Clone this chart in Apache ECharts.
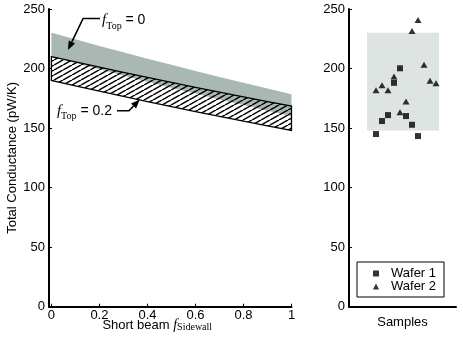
<!DOCTYPE html>
<html>
<head>
<meta charset="utf-8">
<script src="https://cdn.jsdelivr.net/npm/echarts@6/dist/echarts.min.js"></script>
<style>
  html, body { margin: 0; padding: 0; background: #fff; }
  #main { width: 463px; height: 341px; }
</style>
</head>
<body>
<div id="main"></div>
<script>
// short beam model, x = f_Sidewall
var fSidewall = [0, 0.1, 0.2, 0.3, 0.4, 0.5, 0.6, 0.7, 0.8, 0.9, 1];
// f_Top = 0 band (grey)
var top0Upper = [230, 224.5, 219.0, 213.6, 208.3, 203.1, 198.0, 193.0, 188.1, 183.3, 178.5];
var top0Lower = [210, 204.6, 199.3, 194.1, 189.0, 183.9, 179.0, 174.1, 169.3, 164.6, 160];
// f_Top = 0.2 band (hatched)
var top02Upper = [210, 205.5, 201.1, 196.8, 192.5, 188.4, 184.2, 180.2, 176.2, 172.3, 168.5];
var top02Lower = [190, 185.5, 181.0, 176.6, 172.3, 168.1, 163.9, 159.8, 155.8, 151.9, 148];

// measured samples
var wafer1Idx = [1, 2, 3, 4, 5, 6, 7, 8];
var wafer1 = [145, 155.9, 160.9, 188, 200.2, 160.1, 152.8, 143.3];
var wafer2Idx = [1, 2, 3, 4, 5, 6, 7, 8, 9, 10, 11];
var wafer2 = [181.7, 185.9, 181.7, 193.4, 163.2, 172.4, 231.5, 240.8, 203.2, 189.7, 187.6];
var sampleRange = [148, 230];

var xTicks = [0, 0.2, 0.4, 0.6, 0.8, 1];

var font = 'Liberation Sans, Arial, sans-serif';
var serif = 'Liberation Serif, Times New Roman, serif';
var grey = '#a9b8b4';

function pairs(xs, ys) {
    return xs.map(function (x, i) { return [x, ys[i]]; });
}

// hatch pattern
var hatch = document.createElement('canvas');
hatch.width = 9;
hatch.height = 5;
var hc = hatch.getContext('2d');
hc.strokeStyle = '#000';
hc.lineWidth = 1.5;
[-9, 0, 9].forEach(function (o) {
    hc.beginPath();
    hc.moveTo(o, 5);
    hc.lineTo(o + 9, 0);
    hc.stroke();
});

// band between two curves, drawn as one polygon
function band(upper, lower, style) {
    return {
        type: 'custom', xAxisIndex: 0, yAxisIndex: 0, silent: true,
        data: fSidewall.map(function (x, i) { return [x, upper[i], lower[i]]; }),
        encode: { x: 0, y: [1, 2] },
        renderItem: function (params, api) {
            if (params.dataIndex !== 0) return;
            var pts = [];
            fSidewall.forEach(function (x, i) { pts.push(api.coord([x, upper[i]])); });
            for (var i = fSidewall.length - 1; i >= 0; i--) pts.push(api.coord([fSidewall[i], lower[i]]));
            return { type: 'polygon', shape: { points: pts }, style: style };
        }
    };
}

var myChart = echarts.init(document.getElementById('main'));

var axisCommon = {
    nameMoveOverlap: false,
    axisLine: { onZero: false, lineStyle: { color: '#000', width: 2 } },
    axisTick: { inside: true, length: 3, lineStyle: { color: '#000' } },
    splitLine: { show: false },
    axisLabel: { color: '#000', fontSize: 13, fontFamily: font, margin: 4 }
};

var option = {
    backgroundColor: '#fff',
    animation: false,
    grid: [
        { left: 49, right: 171.5, top: 9, bottom: 34.3, outerBoundsMode: 'none', containLabel: false },
        { left: 349, right: 7, top: 9, bottom: 34.3, outerBoundsMode: 'none', containLabel: false }
    ],
    xAxis: [
        echarts.util.merge({
            gridIndex: 0, type: 'value', min: -0.01, max: 1, interval: 0.2,
            axisLabel: {
                margin: 2,
                customValues: xTicks,
                formatter: function (v) { return String(+v.toFixed(1)); }
            },
            axisTick: { customValues: xTicks },
            name: '{t|Short beam }{f|f}{s|Sidewall}',
            nameLocation: 'middle',
            nameGap: 12,
            nameTextStyle: {
                padding: [0, 26, 0, 0],
                verticalAlign: 'top',
                rich: {
                    t: { fontFamily: font, fontSize: 13, color: '#000', lineHeight: 14 },
                    f: { fontFamily: serif, fontStyle: 'italic', fontSize: 14, color: '#000', lineHeight: 14 },
                    s: { fontFamily: serif, fontSize: 10, color: '#000', lineHeight: 10, verticalAlign: 'bottom' }
                }
            }
        }, axisCommon, false),
        echarts.util.merge({
            gridIndex: 1, type: 'value', min: -3.5, max: 14.33,
            axisTick: { show: false },
            axisLabel: { show: false },
            name: 'Samples',
            nameLocation: 'middle',
            nameGap: 9,
            nameTextStyle: { fontFamily: font, fontSize: 13, color: '#000' }
        }, axisCommon, false)
    ],
    yAxis: [
        echarts.util.merge({
            gridIndex: 0, type: 'value', min: 0, max: 250, interval: 50,
            name: 'Total Conductance (pW/K)',
            nameLocation: 'middle',
            nameGap: 30,
            nameTextStyle: { fontFamily: font, fontSize: 13, color: '#000' }
        }, axisCommon, false),
        echarts.util.merge({
            gridIndex: 1, type: 'value', min: 0, max: 250, interval: 50
        }, axisCommon, false)
    ],
    legend: {
        data: ['Wafer 1', 'Wafer 2'],
        orient: 'vertical',
        left: 357,
        top: 262,
        itemWidth: 6,
        itemHeight: 6,
        itemGap: 0,
        padding: [5, 8, 4, 16],
        borderColor: '#000',
        borderWidth: 1,
        backgroundColor: '#fff',
        textStyle: { fontFamily: font, fontSize: 13, color: '#000', lineHeight: 13, padding: [0, 0, 0, 7] }
    },
    series: [
        band(top0Upper, top0Lower, { fill: grey }),
        band(top02Upper, top02Lower, {
            fill: { image: hatch, repeat: 'repeat' }, stroke: '#000', lineWidth: 1.3
        }),
        {
            name: 'Wafer 1', type: 'scatter', xAxisIndex: 1, yAxisIndex: 1,
            symbol: 'rect', symbolSize: 6,
            itemStyle: { color: '#000' },
            data: pairs(wafer1Idx, wafer1),
            markArea: {
                silent: true,
                itemStyle: { color: '#dde4e2', opacity: 1 },
                data: [[{ coord: [-0.5, sampleRange[0]] }, { coord: [11.5, sampleRange[1]] }]]
            },
            z: 3
        },
        {
            name: 'Wafer 2', type: 'scatter', xAxisIndex: 1, yAxisIndex: 1,
            symbol: 'triangle', symbolSize: [7, 6],
            itemStyle: { color: '#000' },
            data: pairs(wafer2Idx, wafer2),
            z: 3
        }
    ]
};

myChart.setOption(option);

// annotations, in data coordinates of the left plot
function px(p) { return myChart.convertToPixel({ gridIndex: 0 }, p); }

function arrow(points) {
    var pts = points.map(px);
    var tip = pts[pts.length - 1], prev = pts[pts.length - 2];
    var dx = tip[0] - prev[0], dy = tip[1] - prev[1];
    var len = Math.sqrt(dx * dx + dy * dy);
    var ux = dx / len, uy = dy / len;
    var hl = 9, hw = 3.5;
    var base = [tip[0] - ux * hl, tip[1] - uy * hl];
    var shaft = pts.slice(0, -1).concat([base]);
    return [
        { type: 'polyline', shape: { points: shaft }, style: { stroke: '#000', lineWidth: 1.6, fill: null }, z: 10 },
        {
            type: 'polygon', z: 10,
            shape: { points: [tip, [base[0] - uy * hw, base[1] + ux * hw], [base[0] + uy * hw, base[1] - ux * hw]] },
            style: { fill: '#000' }
        }
    ];
}

var labelRich = {
    f: { fontFamily: serif, fontStyle: 'italic', fontSize: 15, fill: '#000', lineHeight: 16 },
    s: { fontFamily: serif, fontSize: 10, fill: '#000', lineHeight: 10, verticalAlign: 'bottom', padding: [0, 0, -3, 0] },
    t: { fontFamily: font, fontSize: 14, fill: '#000', lineHeight: 16 }
};

function label(p, txt) {
    var q = px(p);
    return {
        type: 'text', x: q[0], y: q[1], z: 10,
        style: { text: txt, rich: labelRich, verticalAlign: 'middle', align: 'left' }
    };
}

var graphics = []
    .concat(arrow([[0.2025, 242], [0.132, 242], [0.069, 215.5]]))
    .concat(arrow([[0.273, 164.5], [0.323, 164.5], [0.368, 174]]))
    .concat([
        label([0.211, 240.5], '{f|f}{s|Top}{t| = 0}'),
        label([0.023, 164.5], '{f|f}{s|Top}{t| = 0.2}')
    ]);

myChart.setOption({ graphic: graphics });

window.onresize = function () {
    myChart.resize();
};
</script>
</body>
</html>
